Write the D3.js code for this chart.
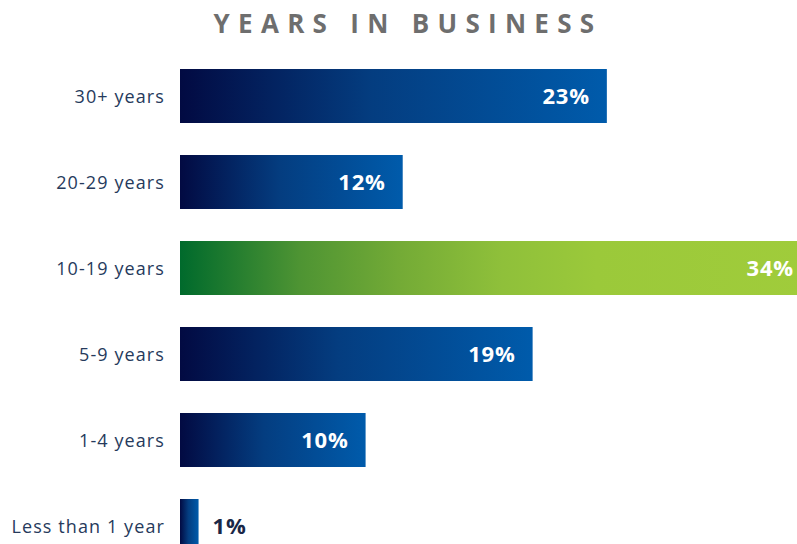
<!DOCTYPE html>
<html>
<head>
<meta charset="utf-8">
<script src="https://cdn.jsdelivr.net/npm/d3@7"></script>
<style>
  html, body { margin: 0; padding: 0; background: #ffffff; }
  svg { display: block; }
</style>
</head>
<body>
<div id="chart"></div>
<script>
// Share of firms by years in business
const categories = ["30+ years", "20-29 years", "10-19 years", "5-9 years", "1-4 years", "Less than 1 year"];
const values = [23, 12, 34, 19, 10, 1];
const highlight = ["10-19 years"];
const title = "YEARS IN BUSINESS";

const W = 797, H = 544;
const svg = d3.select("#chart").append("svg")
  .attr("width", W).attr("height", H);

const defs = svg.append("defs");
const blue = defs.append("linearGradient").attr("id", "gBlue")
  .attr("x1", "0%").attr("x2", "100%").attr("y1", "0%").attr("y2", "0%");
blue.append("stop").attr("offset", "0%").attr("stop-color", "#020a42");
blue.append("stop").attr("offset", "45%").attr("stop-color", "#043d80");
blue.append("stop").attr("offset", "100%").attr("stop-color", "#005bab");

const green = defs.append("linearGradient").attr("id", "gGreen")
  .attr("x1", "0%").attr("x2", "100%").attr("y1", "0%").attr("y2", "0%");
[["0%", "#006a2c"], ["19%", "#4e9433"], ["35%", "#74ab36"], ["51%", "#8fc03a"],
 ["66%", "#9bc93a"], ["100%", "#a0cc3b"]]
  .forEach(([o, c]) => green.append("stop").attr("offset", o).attr("stop-color", c));

const x = d3.scaleLinear().domain([0, 34]).range([180, 811]);
// step of 86px per row, bars 54px tall
const y = d3.scaleBand().domain(categories).range([69, 553]).paddingInner(32 / 86).paddingOuter(0);

svg.append("text")
  .attr("x", 408).attr("y", 33)
  .attr("text-anchor", "middle")
  .attr("font-family", "'Open Sans', sans-serif")
  .attr("font-weight", 700)
  .attr("font-size", 26)
  .attr("letter-spacing", "8.3px")
  .attr("fill", "#6e6e6e")
  .text(title);

const rows = svg.selectAll("g.row")
  .data(categories.map((c, i) => ({ cat: c, val: values[i] })))
  .join("g").attr("class", "row");

rows.append("rect")
  .attr("x", x(0))
  .attr("y", d => y(d.cat))
  .attr("width", d => x(d.val) - x(0))
  .attr("height", y.bandwidth())
  .attr("fill", d => highlight.includes(d.cat) ? "url(#gGreen)" : "url(#gBlue)");

rows.append("text")
  .attr("x", 165)
  .attr("y", d => y(d.cat) + y.bandwidth() / 2 + 1)
  .attr("dy", "0.35em")
  .attr("text-anchor", "end")
  .attr("font-family", "'Open Sans', sans-serif")
  .attr("font-size", 18)
  .attr("letter-spacing", "1.1px")
  .attr("fill", "#263a5c")
  .text(d => d.cat);

rows.append("text")
  .attr("x", d => d.val < 3 ? x(d.val) + 14 : x(d.val) - 17)
  .attr("y", d => y(d.cat) + y.bandwidth() / 2)
  .attr("dy", "0.35em")
  .attr("text-anchor", d => d.val < 3 ? "start" : "end")
  .attr("font-family", "'Open Sans', sans-serif")
  .attr("font-weight", 700)
  .attr("font-size", 22)
  .attr("letter-spacing", "0.8px")
  .attr("fill", d => d.val < 3 ? "#1a2747" : "#ffffff")
  .text(d => d.val + "%");
</script>
</body>
</html>
